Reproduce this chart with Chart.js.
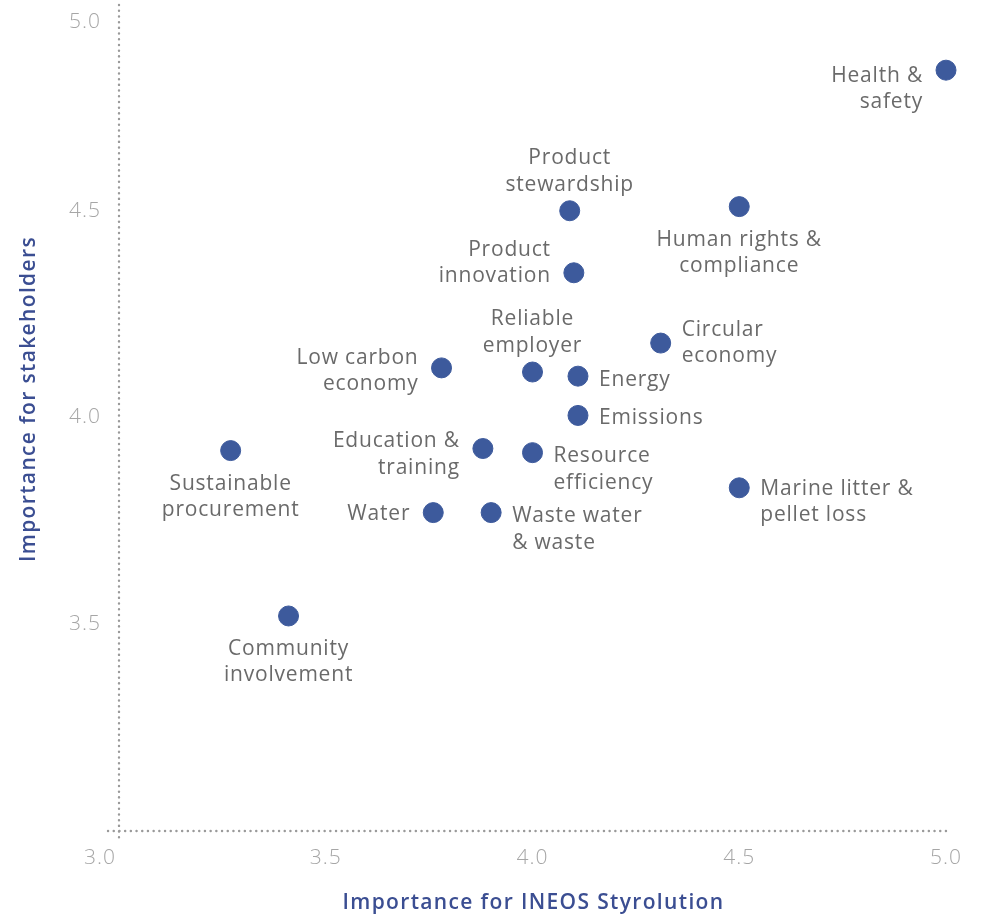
<!DOCTYPE html>
<html>
<head>
<meta charset="utf-8">
<script src="https://cdn.jsdelivr.net/npm/chart.js@4"></script>
<style>
  html, body { margin: 0; padding: 0; background: #fff; }
  #wrap { width: 984px; height: 917px; position: relative; }
</style>
</head>
<body>
<div id="wrap"><canvas id="chart"></canvas></div>
<script>
// topics and their scores
const topics = [
  'Health &\nsafety',
  'Product\nstewardship',
  'Human rights &\ncompliance',
  'Product\ninnovation',
  'Circular\neconomy',
  'Low carbon\neconomy',
  'Reliable\nemployer',
  'Energy',
  'Emissions',
  'Sustainable\nprocurement',
  'Education &\ntraining',
  'Resource\nefficiency',
  'Marine litter &\npellet loss',
  'Water',
  'Waste water\n& waste',
  'Community\ninvolvement'
];
const importanceCompany = [5.00, 4.09, 4.50, 4.10, 4.31, 3.78, 4.00, 4.11, 4.11, 3.27, 3.88, 4.00, 4.50, 3.76, 3.90, 3.41];
const importanceStakeholders = [4.84, 4.50, 4.51, 4.35, 4.18, 4.12, 4.11, 4.10, 4.005, 3.92, 3.925, 3.915, 3.83, 3.77, 3.77, 3.52];
const tickValues = [3.0, 3.5, 4.0, 4.5, 5.0];

// where each label sits relative to its dot
const labelSide = ['left', 'above', 'below', 'left', 'right', 'left', 'above', 'right',
  'right', 'below', 'left', 'right', 'right', 'left', 'right', 'below'];
const labelShift = [19, 0, 0, -10, 0, 3, 0, 4, 3, 0, 6, 17, 14, 1, 17, 0];

const blue = '#3d5a9c';
const titleBlue = '#3b4e92';
const labelFont = '21px "Open Sans", sans-serif';
const tickFont = '300 21px "Open Sans", sans-serif';
const lineH = 26.5;

function dotted(ctx, x1, y1, x2, y2) {
  ctx.save();
  ctx.strokeStyle = '#9a9a9a';
  ctx.lineWidth = 2.4;
  ctx.lineCap = 'round';
  ctx.setLineDash([0.1, 5.6]);
  ctx.beginPath();
  ctx.moveTo(x1, y1);
  ctx.lineTo(x2, y2);
  ctx.stroke();
  ctx.restore();
}

const decorations = {
  id: 'decorations',
  beforeDatasetsDraw(chart) {
    const ctx = chart.ctx;
    const xs = chart.scales.x, ys = chart.scales.y;
    const a = chart.chartArea;
    dotted(ctx, a.left, a.top + 1, a.left, a.bottom + 9);
    dotted(ctx, a.left - 11, a.bottom, a.right + 1, a.bottom);

    ctx.save();
    ctx.font = tickFont;
    ctx.letterSpacing = '1px';
    ctx.fillStyle = '#a6a6a6';
    ctx.textBaseline = 'middle';
    // x ticks
    ctx.textAlign = 'center';
    tickValues.forEach(v => {
      let x = xs.getPixelForValue(v);
      if (v === 3.0) x -= 19;
      ctx.fillText(v.toFixed(1), x, a.bottom + 27);
    });
    // y ticks
    ctx.textAlign = 'right';
    tickValues.forEach(v => {
      if (v === 3.0) return;
      const y = Math.max(ys.getPixelForValue(v), 22);
      ctx.fillText(v.toFixed(1), a.left - 18, y);
    });

    // axis titles
    ctx.fillStyle = titleBlue;
    ctx.font = '600 21px "Open Sans", sans-serif';
    ctx.letterSpacing = '1.35px';
    ctx.textAlign = 'center';
    ctx.fillText('Importance for INEOS Styrolution', (a.left + a.right) / 2 + 1, 903);
    ctx.translate(29, 399);
    ctx.rotate(-Math.PI / 2);
    ctx.fillText('Importance for stakeholders', 0, 0);
    ctx.restore();
  },
  afterDatasetsDraw(chart) {
    const ctx = chart.ctx;
    const meta = chart.getDatasetMeta(0);
    ctx.save();
    ctx.font = labelFont;
    ctx.letterSpacing = '0.8px';
    ctx.fillStyle = '#6a6a6a';
    ctx.textBaseline = 'middle';
    meta.data.forEach((pt, i) => {
      const lines = topics[i].split('\n');
      const n = lines.length;
      const side = labelSide[i];
      let x = pt.x, y0;
      if (side === 'left' || side === 'right') {
        ctx.textAlign = side === 'left' ? 'right' : 'left';
        x = side === 'left' ? pt.x - 23 : pt.x + 21;
        y0 = pt.y - (n - 1) * lineH / 2 + labelShift[i];
      } else if (side === 'above') {
        ctx.textAlign = 'center';
        y0 = pt.y - 26 - (n - 1) * lineH;
      } else {
        ctx.textAlign = 'center';
        y0 = pt.y + 33;
      }
      lines.forEach((ln, k) => ctx.fillText(ln, x, y0 + k * lineH));
    });
    ctx.restore();
  }
};

const points = importanceCompany.map((v, i) => ({ x: v, y: importanceStakeholders[i] }));

new Chart(document.getElementById('chart'), {
  type: 'scatter',
  data: {
    datasets: [{
      data: points,
      backgroundColor: blue,
      borderColor: blue,
      pointRadius: 10,
      pointHoverRadius: 10,
      clip: false
    }]
  },
  options: {
    responsive: true,
    maintainAspectRatio: false,
    animation: false,
    layout: { autoPadding: false, padding: { left: 119, right: 38, top: 4, bottom: 86 } },
    plugins: { legend: { display: false }, tooltip: { enabled: false } },
    scales: {
      x: { type: 'linear', min: 3, max: 5, display: false },
      y: { type: 'linear', min: 3, max: 5, display: false }
    }
  },
  plugins: [decorations]
});
</script>
</body>
</html>
